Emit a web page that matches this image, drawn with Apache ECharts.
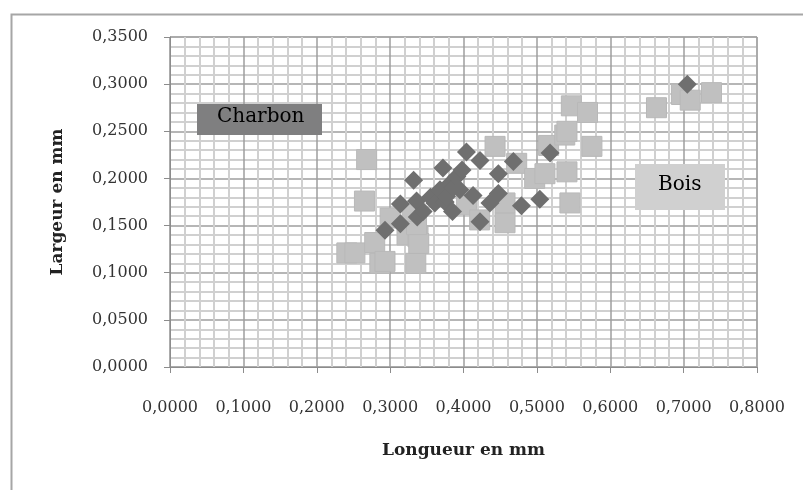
<!DOCTYPE html>
<html>
<head>
<meta charset="utf-8">
<script src="https://cdn.jsdelivr.net/npm/echarts@6/dist/echarts.min.js"></script>
<style>html,body{margin:0;padding:0;background:#fff;}#c{width:803px;height:490px;}</style>
</head>
<body>
<div id="c"></div>
<script>
// Longueur (x) and Largeur (y) in mm
const boisX = [0.241,0.252,0.265,0.268,0.279,0.286,0.293,0.300,0.323,0.338,0.335,0.339,0.336,0.330,0.404,0.422,0.4566,0.4566,0.443,0.4725,0.497,0.511,0.516,0.538,0.541,0.547,0.569,0.575,0.541,0.545,0.663,0.697,0.709,0.738];
const boisY = [0.121,0.121,0.176,0.220,0.132,0.110,0.112,0.158,0.140,0.138,0.110,0.131,0.151,0.165,0.172,0.156,0.153,0.174,0.234,0.216,0.200,0.205,0.235,0.246,0.250,0.277,0.270,0.234,0.207,0.174,0.275,0.289,0.283,0.291];
const charbonX = [0.293,0.314,0.314,0.332,0.336,0.337,0.345,0.355,0.361,0.368,0.372,0.375,0.377,0.382,0.385,0.386,0.391,0.395,0.398,0.404,0.413,0.4225,0.4225,0.436,0.4475,0.4475,0.468,0.479,0.504,0.518,0.705];
const charbonY = [0.145,0.152,0.173,0.198,0.176,0.159,0.165,0.180,0.174,0.188,0.211,0.175,0.181,0.195,0.165,0.190,0.202,0.188,0.209,0.228,0.182,0.219,0.154,0.174,0.205,0.184,0.218,0.171,0.178,0.227,0.300];
const xTicks = {min: 0, max: 0.8, step: 0.1};
const yTicks = {min: 0, max: 0.35, step: 0.05};
const xTitle = 'Longueur en mm';
const yTitle = 'Largeur en mm';
const boisLabel = 'Bois';
const charbonLabel = 'Charbon';

const zip = (a, b) => a.map((v, i) => [v, b[i]]);
const fmt = v => v.toFixed(4).replace('.', ',');
const FONT = 'DejaVu Serif';

const chart = echarts.init(document.getElementById('c'));
const axisCommon = {
  type: 'value',
  axisLine: {show: true, lineStyle: {color: '#8c8c8c', width: 1}},
  axisTick: {show: true, length: 6, lineStyle: {color: '#8c8c8c'}},
  splitLine: {show: true, lineStyle: {color: '#9e9e9e', width: 1.5}},
  minorTick: {show: false, splitNumber: 5},
  minorSplitLine: {show: true, lineStyle: {color: '#d0d0d0', width: 2}},
  nameLocation: 'middle',
  nameTextStyle: {fontFamily: FONT, fontWeight: 'bold', fontSize: 17, color: '#222'}
};
chart.setOption({
  animation: false,
  backgroundColor: '#fff',
  grid: {left: 170, right: 46, top: 37, bottom: 123, show: true, borderColor: '#a6a6a6', borderWidth: 1},
  xAxis: Object.assign({}, axisCommon, {
    min: xTicks.min, max: xTicks.max, interval: xTicks.step,
    name: xTitle, nameGap: 75,
    axisLabel: {formatter: fmt, fontFamily: FONT, fontSize: 16, color: '#333', margin: 33}
  }),
  yAxis: Object.assign({}, axisCommon, {
    min: yTicks.min, max: yTicks.max, interval: yTicks.step,
    name: yTitle, nameGap: 104,
    axisLabel: {formatter: fmt, fontFamily: FONT, fontSize: 16, color: '#333', margin: 22}
  }),
  series: [
    {
      name: boisLabel, type: 'scatter', data: zip(boisX, boisY),
      symbol: 'rect', symbolSize: 20, z: 2,
      itemStyle: {color: '#c0c0c0', borderColor: '#b8b8b8', borderWidth: 1, opacity: 1}
    },
    {
      name: charbonLabel, type: 'scatter', data: zip(charbonX, charbonY),
      symbol: 'diamond', symbolSize: 19, z: 3,
      itemStyle: {color: '#6f6f6f', opacity: 1}
    }
  ],
  graphic: [
    {type: 'rect', left: 9, top: 12, shape: {width: 820, height: 500}, style: {fill: 'none', stroke: '#a6a6a6', lineWidth: 2}, silent: true, z: 0},
    {type: 'rect', left: 197, top: 104, shape: {width: 125, height: 31}, style: {fill: '#7f7f80'}, z: 10},
    {type: 'text', left: 217, top: 107, style: {text: charbonLabel, font: '20px "DejaVu Serif"', fill: '#000'}, z: 11},
    {type: 'rect', left: 635, top: 164, shape: {width: 90, height: 46}, style: {fill: '#d0d0d0'}, z: 10},
    {type: 'text', left: 658, top: 175, style: {text: boisLabel, font: '20px "DejaVu Serif"', fill: '#000'}, z: 11}
  ]
});
</script>
</body>
</html>
